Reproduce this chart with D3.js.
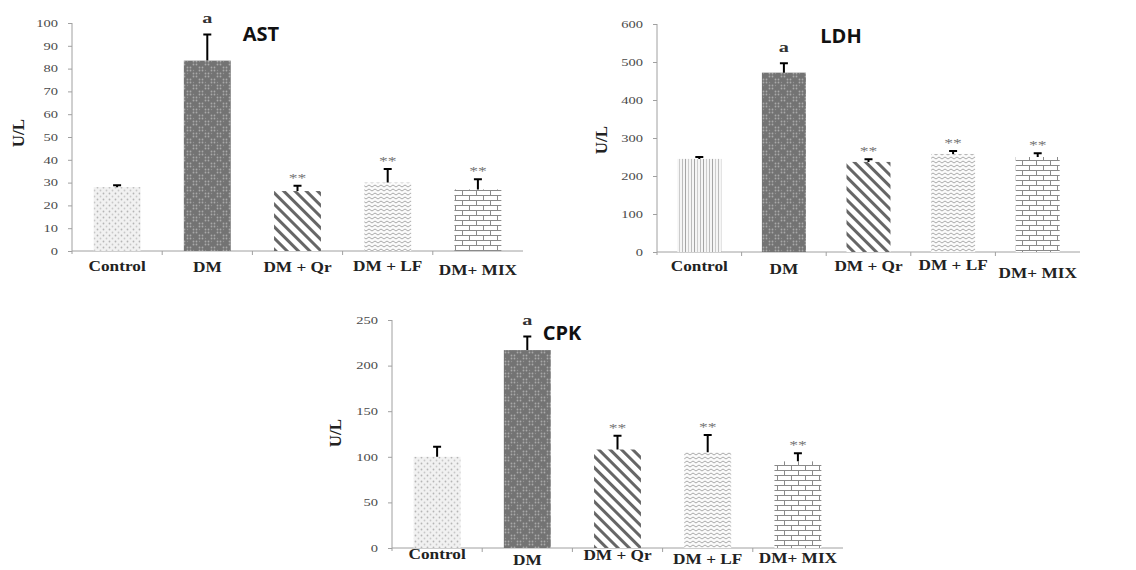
<!DOCTYPE html>
<html>
<head>
<meta charset="utf-8">
<title>AST LDH CPK</title>
<script src="https://d3js.org/d3.v7.min.js"></script>
<style>
    body { margin: 0; background: #fff; }
    svg { display: block; }
    .tick-label { font-family: "Liberation Serif", serif; font-size: 10px; fill: #4a4a4a; }
    .cat-label { font-family: "Liberation Serif", serif; font-size: 15px; font-weight: bold; fill: #222; }
    .y-title { font-family: "Liberation Serif", serif; font-size: 17px; font-weight: bold; fill: #222; }
    .panel-title { font-family: "Open Sans", sans-serif; font-size: 20px; font-weight: bold; fill: #111; }
    .stars { font-family: "Liberation Serif", serif; font-size: 13px; fill: #777; }
    .sig-a { font-family: "Liberation Serif", serif; font-size: 15px; font-weight: bold; fill: #333; }
</style>
</head>
<body>
<svg width="1136" height="570"></svg>
<script>
    // data
    const categories = ["Control", "DM", "DM + Qr", "DM + LF", "DM+ MIX"];
    const sigLabels = ["", "a", "**", "**", "**"];

    const astMeans = [28, 83.5, 26.3, 30, 27];
    const astErr   = [0.8, 11.5, 2.3, 6, 4.5];
    const astTicks = [0, 10, 20, 30, 40, 50, 60, 70, 80, 90, 100];

    const ldhMeans = [245, 472, 237, 258, 250];
    const ldhErr   = [5, 25, 7, 8, 10];
    const ldhTicks = [0, 100, 200, 300, 400, 500, 600];

    const cpkMeans = [100, 217, 108, 105, 95];
    const cpkErr   = [11, 15, 15, 19, 9];
    const cpkTicks = [0, 50, 100, 150, 200, 250];

    const svg = d3.select("svg");
    const defs = svg.append("defs");

    // fill patterns, one per group
    function pattern(id, w, h, bg) {
        const p = defs.append("pattern").attr("id", id)
            .attr("patternUnits", "userSpaceOnUse")
            .attr("width", w).attr("height", h);
        p.append("rect").attr("width", w).attr("height", h).attr("fill", bg);
        return p;
    }

    // light dotted (control)
    let p = pattern("dots", 6, 6, "#f1f1f1");
    p.append("circle").attr("cx", 1.5).attr("cy", 1.5).attr("r", 0.9).attr("fill", "#b5b5b5");
    p.append("circle").attr("cx", 4.5).attr("cy", 4.5).attr("r", 0.9).attr("fill", "#c8c8c8");

    // light vertical lines (LDH control)
    p = pattern("vlines", 9, 9, "#f5f5f5");
    p.append("rect").attr("x", 1).attr("width", 1).attr("height", 9).attr("fill", "#a5a5a5");
    p.append("rect").attr("x", 4).attr("width", 1).attr("height", 9).attr("fill", "#cccccc");
    p.append("rect").attr("x", 7).attr("width", 1).attr("height", 9).attr("fill", "#bbbbbb");

    // dark checks (DM)
    p = pattern("dark", 12, 12, "#737373");
    [[1.5, 1.5], [4.5, 1.5], [1.5, 4.5], [4.5, 4.5], [7.5, 7.5], [10.5, 7.5], [7.5, 10.5], [10.5, 10.5]]
        .forEach(c => p.append("circle").attr("cx", c[0]).attr("cy", c[1]).attr("r", 0.9).attr("fill", "#a9a9a9"));
    [[7.5, 1.5], [1.5, 10.5]]
        .forEach(c => p.append("circle").attr("cx", c[0]).attr("cy", c[1]).attr("r", 0.7).attr("fill", "#929292"));

    // diagonal stripes (Qr)
    p = pattern("diag", 8, 8, "#ffffff").attr("patternTransform", "rotate(-45)");
    p.append("rect").attr("x", 0).attr("width", 3).attr("height", 8).attr("fill", "#666");

    // waves (LF)
    p = pattern("wave", 6, 4, "#fbfbfb");
    p.append("path").attr("d", "M0,3 L3,1 L6,3").attr("fill", "none")
        .attr("stroke", "#a0a0a0").attr("stroke-width", 0.9);

    // bricks (MIX)
    p = pattern("brick", 14, 10, "#ffffff");
    p.append("path")
        .attr("d", "M0,0.5 H14 M0,5.5 H14 M0.5,0 V5 M7.5,5 V10")
        .attr("fill", "none").attr("stroke", "#8a8a8a").attr("stroke-width", 1);

    const panels = [
        {title: "AST", means: astMeans, err: astErr, ticks: astTicks,
         x0: 72, x1: 523, yTop: 23, yBot: 251, tx: 261, ty: 41, lx: 18, ly: 133,
         labelDy: [20, 21, 21, 20, 24],
         fills: ["dots", "dark", "diag", "wave", "brick"]},
        {title: "LDH", means: ldhMeans, err: ldhErr, ticks: ldhTicks,
         x0: 657, x1: 1080, yTop: 24, yBot: 252, tx: 841, ty: 43, lx: 601, ly: 140,
         labelDy: [19, 22, 19, 18, 26],
         fills: ["vlines", "dark", "diag", "wave", "brick"]},
        {title: "CPK", means: cpkMeans, err: cpkErr, ticks: cpkTicks,
         x0: 392, x1: 843, yTop: 320, yBot: 548, tx: 562, ty: 340, lx: 335, ly: 433,
         labelDy: [11, 17, 12, 16, 15],
         fills: ["dots", "dark", "diag", "wave", "brick"]}
    ];

    panels.forEach(drawPanel);

    function drawPanel(cfg) {
        const g = svg.append("g");
        const n = categories.length;

        const x = d3.scaleBand().domain(categories).range([cfg.x0, cfg.x1]);
        const y = d3.scaleLinear()
            .domain([0, d3.max(cfg.ticks)])
            .range([cfg.yBot, cfg.yTop]);
        const bw = x.bandwidth() * 0.52;
        const rows = categories.map((c, i) => ({c, i, v: cfg.means[i], e: cfg.err[i]}));

        // y axis
        const yAxis = g.append("g")
            .attr("transform", `translate(${cfg.x0},0)`)
            .call(d3.axisLeft(y).tickValues(cfg.ticks).tickSize(4));
        yAxis.select(".domain").attr("stroke", "#a0a0a0").attr("d", `M0,${cfg.yTop}V${cfg.yBot + 3}`);
        yAxis.selectAll(".tick line").attr("stroke", "#a0a0a0");
        // the source image is stretched sideways, so stretch the text too
        yAxis.selectAll(".tick text")
            .attr("class", "tick-label")
            .attr("font-family", null).attr("font-size", null).attr("fill", null)
            .attr("x", null)
            .attr("transform", "translate(-14,0) scale(1.45,1)");

        // x axis
        g.append("line")
            .attr("x1", cfg.x0).attr("x2", cfg.x1)
            .attr("y1", cfg.yBot).attr("y2", cfg.yBot)
            .attr("stroke", "#a0a0a0");
        g.selectAll(".xtick")
            .data(d3.range(1, n))
            .join("line")
            .attr("x1", i => cfg.x0 + i * x.step()).attr("x2", i => cfg.x0 + i * x.step())
            .attr("y1", cfg.yBot).attr("y2", cfg.yBot + 4)
            .attr("stroke", "#a0a0a0");

        g.selectAll(".cat-label")
            .data(rows)
            .join("text")
            .attr("class", "cat-label")
            .attr("transform", d => `translate(${x(d.c) + x.bandwidth() / 2},${cfg.yBot + cfg.labelDy[d.i]}) scale(1.15,1)`)
            .attr("text-anchor", "middle")
            .text(d => d.c);

        // bars
        g.selectAll(".bar")
            .data(rows)
            .join("rect")
            .attr("class", "bar")
            .attr("x", d => x(d.c) + (x.bandwidth() - bw) / 2)
            .attr("y", d => y(d.v))
            .attr("width", bw)
            .attr("height", d => y(0) - y(d.v))
            .attr("fill", d => `url(#${cfg.fills[d.i]})`);

        // upper error bars
        const cx = d => x(d.c) + x.bandwidth() / 2;
        g.selectAll(".err")
            .data(rows)
            .join("path")
            .attr("d", d => `M${cx(d)},${y(d.v)}V${y(d.v + d.e)}M${cx(d) - 4},${y(d.v + d.e)}H${cx(d) + 4}`)
            .attr("stroke", "#000")
            .attr("stroke-width", 2)
            .attr("fill", "none");

        // significance marks
        g.selectAll(".sig")
            .data(rows.filter(d => sigLabels[d.i]))
            .join("text")
            .attr("class", d => sigLabels[d.i] === "a" ? "sig-a" : "stars")
            .attr("transform", d => `translate(${cx(d)},${y(d.v + d.e) - (sigLabels[d.i] === "a" ? 11 : 4)}) scale(1.35,1)`)
            .attr("text-anchor", "middle")
            .text(d => sigLabels[d.i]);

        // titles
        g.append("text")
            .attr("class", "panel-title")
            .attr("x", cfg.tx).attr("y", cfg.ty)
            .attr("text-anchor", "middle")
            .text(cfg.title);

        g.append("text")
            .attr("class", "y-title")
            .attr("transform", `translate(${cfg.lx},${cfg.ly}) rotate(-90)`)
            .attr("text-anchor", "middle")
            .attr("dy", "0.35em")
            .text("U/L");
    }
</script>
</body>
</html>
